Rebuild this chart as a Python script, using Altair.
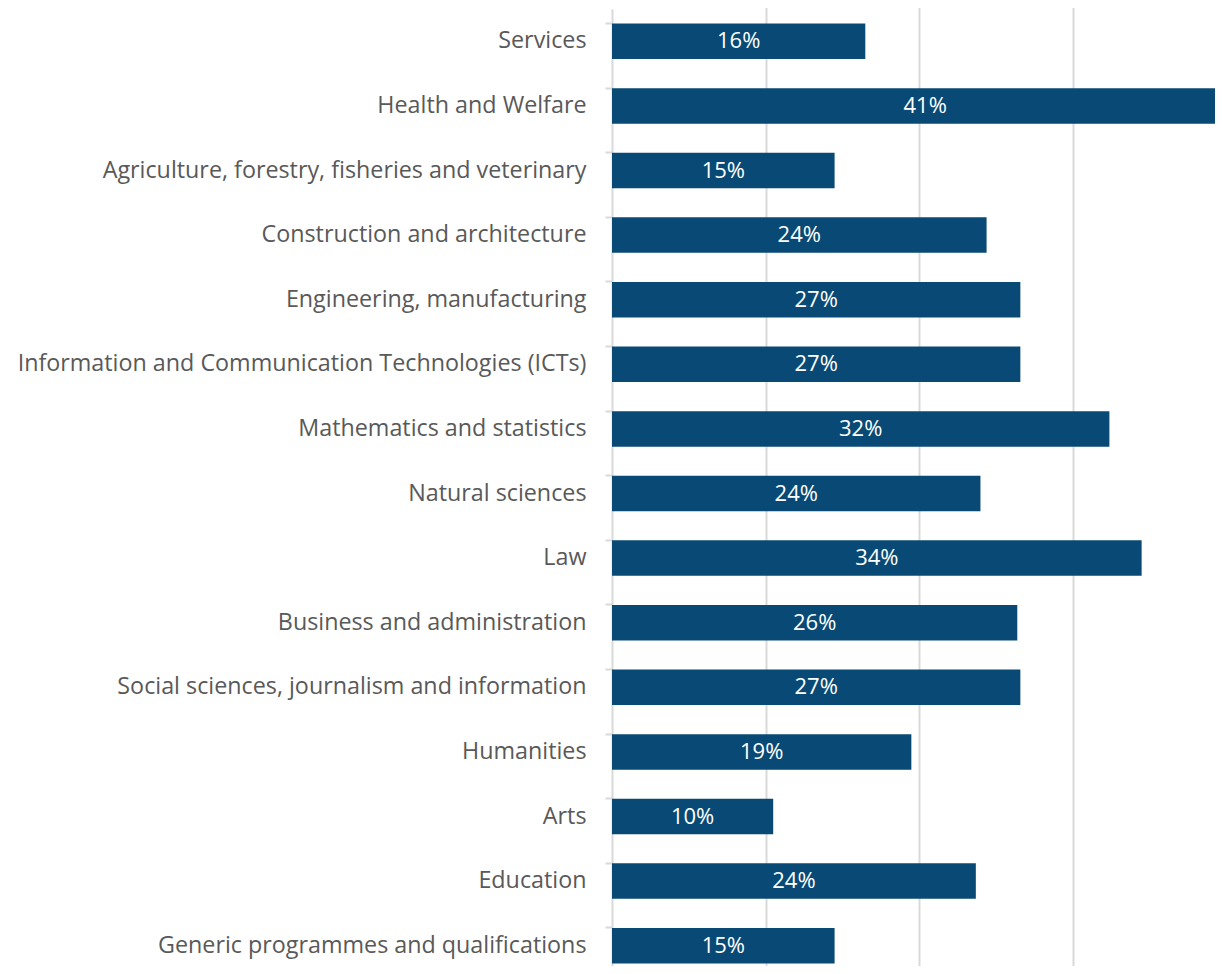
import altair as alt
import pandas as pd

categories = [
    "Services",
    "Health and Welfare",
    "Agriculture, forestry, fisheries and veterinary",
    "Construction and architecture",
    "Engineering, manufacturing",
    "Information and Communication Technologies (ICTs)",
    "Mathematics and statistics",
    "Natural sciences",
    "Law",
    "Business and administration",
    "Social sciences, journalism and information",
    "Humanities",
    "Arts",
    "Education",
    "Generic programmes and qualifications",
]
values = [16.5, 40.8, 14.5, 24.4, 26.6, 26.6, 32.4, 24.0, 34.5, 26.4, 26.6, 19.5, 10.5, 23.7, 14.5]
labels = ["16%", "41%", "15%", "24%", "27%", "27%", "32%", "24%", "34%", "26%", "27%", "19%", "10%", "24%", "15%"]

df = pd.DataFrame({"cat": categories, "val": values, "label": labels})
df["mid"] = df["val"] / 2

FONT = "Open Sans"

y_scale = alt.Scale(paddingInner=0.45, paddingOuter=0.225, range=[0, 969])
y = alt.Y(
    "cat:N",
    sort=categories,
    title=None,
    scale=y_scale,
    axis=alt.Axis(
        labelFont=FONT,
        labelFontSize=23.3,
        labelColor="#595959",
        labelLimit=800,
        labelPadding=19,
        domainColor="#d9d9d9",
        domainWidth=2,
        tickColor="#d9d9d9",
        tickWidth=2,
        tickSize=7,
        bandPosition=0,
        grid=False,
    ),
)
x_scale = alt.Scale(domain=[0, 39.8], nice=False, range=[0, 611])
x_axis = alt.Axis(
    values=[10, 20, 30, 40],
    labels=False,
    ticks=False,
    domain=False,
    grid=True,
    gridColor="#d9d9d9",
    gridWidth=2,
    title=None,
)

bars = alt.Chart(df).mark_bar(color="#084a75").encode(
    y=y,
    x=alt.X("val:Q", scale=x_scale, axis=x_axis),
)
text = alt.Chart(df).mark_text(color="white", font=FONT, fontSize=22, baseline="middle").encode(
    y=alt.Y("cat:N", sort=categories),
    x=alt.X("mid:Q"),
    text="label:N",
)

chart = (
    alt.layer(bars, text)
    .properties(
        width=603,
        height=957,
        autosize=alt.AutoSizeParams(type="none"),
        padding={"left": 604, "top": 1, "right": 0, "bottom": 0},
    )
    .configure_view(stroke=None)
)

chart.save("out.html", embed_options={"renderer": "svg", "actions": False})
